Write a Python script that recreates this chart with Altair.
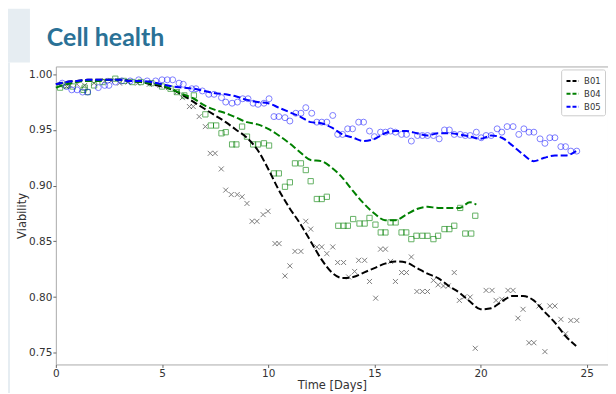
import altair as alt
import pandas as pd

title_text = ["Cell health"]
series_names = ["B01", "B04", "B05"]
line_colors = ["#000000", "#008000", "#0000ff"]

# Fitted (dashed) lines
b01_line_t = [0.0, 0.5, 1.0, 1.5, 2.0, 2.5, 3.0, 3.5, 4.0, 4.5, 5.0, 5.5, 6.0, 6.5, 7.0, 7.5, 8.0, 8.5, 9.0, 9.5,
              10.0, 10.5, 11.0, 11.5, 12.0, 12.5, 13.0, 13.5, 14.0, 14.5, 15.0, 15.5, 16.0, 16.5, 17.0, 17.5, 18.0, 18.5, 19.0, 19.5,
              20.0, 20.5, 21.0, 21.5, 22.0, 22.5, 23.0, 23.5, 24.0, 24.5]
b01_line_v = [0.991, 0.993, 0.994, 0.995, 0.995, 0.995, 0.995, 0.994, 0.993, 0.991,
              0.989, 0.986, 0.981, 0.975, 0.969, 0.963, 0.957, 0.950, 0.943, 0.932,
              0.915, 0.896, 0.880, 0.866, 0.850, 0.834, 0.822, 0.817, 0.818, 0.822,
              0.826, 0.830, 0.832, 0.831, 0.826, 0.821, 0.817, 0.810, 0.804, 0.796,
              0.789, 0.790, 0.796, 0.801, 0.801, 0.797, 0.787, 0.777, 0.765, 0.756]

b04_line_t = [0.0, 0.5, 1.0, 1.5, 2.0, 2.5, 3.0, 3.5, 4.0, 4.5, 5.0, 5.5, 6.0, 6.5, 7.0, 7.5, 8.0, 8.5, 9.0, 9.5,
              10.0, 10.5, 11.0, 11.5, 12.0, 12.5, 13.0, 13.5, 14.0, 14.5, 15.0, 15.5, 16.0, 16.5, 17.0, 17.5, 18.0, 18.5, 19.0, 19.5,
              19.8]
b04_line_v = [0.988, 0.991, 0.993, 0.994, 0.994, 0.995, 0.995, 0.994, 0.993, 0.992,
              0.990, 0.986, 0.982, 0.978, 0.972, 0.968, 0.965, 0.961, 0.957, 0.955,
              0.951, 0.945, 0.938, 0.930, 0.923, 0.922, 0.916, 0.907, 0.895, 0.884,
              0.875, 0.869, 0.869, 0.874, 0.879, 0.881, 0.880, 0.880, 0.880, 0.885,
              0.883]

b05_line_t = list(b01_line_t)
b05_line_v = [0.991, 0.993, 0.994, 0.995, 0.995, 0.995, 0.995, 0.994, 0.994, 0.993,
              0.991, 0.989, 0.988, 0.987, 0.985, 0.983, 0.982, 0.980, 0.977, 0.975,
              0.974, 0.970, 0.966, 0.962, 0.957, 0.956, 0.952, 0.946, 0.943, 0.940,
              0.942, 0.947, 0.949, 0.949, 0.947, 0.945, 0.947, 0.947, 0.946, 0.944,
              0.942, 0.945, 0.943, 0.936, 0.928, 0.922, 0.925, 0.927, 0.927, 0.931]

# Measurements
b01_pts_t = [0.2, 0.5, 0.66, 1.0, 1.36, 1.8, 2.3, 2.6, 3.0, 3.4, 3.85, 4.4, 4.9, 5.3, 5.7,
             5.96, 6.29, 6.47, 6.75, 7.04, 7.27, 7.5, 7.79, 8.0, 8.26, 8.54, 8.77, 9.0, 9.24, 9.47,
             9.76, 9.99, 10.32, 10.51, 10.79, 11.02, 11.26, 11.54, 11.77, 12.0, 12.29, 12.52, 12.76, 13.04,
             13.27, 13.55, 13.79, 14.07, 14.26, 14.54, 14.77, 15.06, 15.29, 15.52, 15.76, 15.99, 16.28, 16.51,
             16.74, 17.0, 17.26, 17.5, 17.78, 18.0, 18.25, 18.48, 18.76, 19.0, 19.23, 19.51, 19.75,
             20.26, 20.54, 20.73, 21.0, 21.29, 21.53, 21.76, 22.0, 22.28, 22.51, 22.75, 23.03, 23.26, 23.5,
             23.78, 24.0, 24.25, 24.53]
b01_pts_v = [0.990, 0.989, 0.990, 0.991, 0.990, 0.992, 0.994, 0.994, 0.992, 0.993, 0.992, 0.991, 0.990, 0.988, 0.984,
             0.979, 0.971, 0.971, 0.962, 0.953, 0.929, 0.929, 0.915, 0.896, 0.892, 0.892, 0.890, 0.884, 0.868, 0.868,
             0.874, 0.877, 0.848, 0.848, 0.819, 0.828, 0.841, 0.841, 0.868, 0.861, 0.845, 0.845, 0.839, 0.845,
             0.831, 0.831, 0.818, 0.823, 0.833, 0.833, 0.814, 0.799, 0.843, 0.843, 0.832, 0.814, 0.822, 0.822,
             0.836, 0.805, 0.805, 0.805, 0.815, 0.811, 0.810, 0.810, 0.822, 0.797, 0.800, 0.800, 0.754,
             0.806, 0.806, 0.797, 0.798, 0.806, 0.806, 0.781, 0.789, 0.759, 0.759, 0.792, 0.751, 0.792, 0.792,
             0.780, 0.767, 0.779, 0.779]

b04_pts_t = [0.2, 0.5, 0.8, 1.3, 1.36, 1.5, 1.8, 2.2, 2.8, 3.2, 3.6, 4.0, 4.5, 5.0, 5.4, 5.7, 6.05, 6.5,
             7.04, 7.3, 7.55, 7.8, 8.0, 8.3, 8.5, 8.77, 9.0, 9.29, 9.52, 9.8, 10.04, 10.27, 10.5, 10.79, 11.02,
             11.26, 11.54, 11.77, 12.0, 12.29, 12.52, 12.76, 13.3, 13.55, 13.75, 14.0, 14.3, 14.54, 14.77, 15.05,
             15.3, 15.52, 15.76, 16.0, 16.28, 16.5, 16.74, 16.98, 17.26, 17.5, 17.78, 18.0, 18.3, 18.53, 18.76,
             19.04, 19.28, 19.56, 19.75]
b04_pts_v = [0.988, 0.990, 0.989, 0.986, 0.988, 0.984, 0.990, 0.993, 0.996, 0.994, 0.993, 0.993, 0.992, 0.989, 0.987, 0.984, 0.981, 0.981,
             0.964, 0.954, 0.954, 0.947, 0.948, 0.937, 0.937, 0.953, 0.944, 0.937, 0.937, 0.938, 0.936, 0.911, 0.911, 0.899, 0.903,
             0.920, 0.920, 0.914, 0.904, 0.888, 0.888, 0.890, 0.864, 0.864, 0.864, 0.870, 0.866, 0.866, 0.871, 0.865,
             0.858, 0.858, 0.867, 0.867, 0.858, 0.858, 0.852, 0.855, 0.855, 0.855, 0.852, 0.855, 0.861, 0.861, 0.864,
             0.880, 0.857, 0.857, 0.873]

b05_pts_t = [0.3, 0.5, 0.75, 1.0, 1.26, 1.5, 2.0, 2.3, 2.5, 2.8, 3.1, 3.5, 3.9, 4.3, 4.7, 5.0, 5.25, 5.5, 5.8, 6.0,
             6.4, 6.6, 6.9, 7.2, 7.45, 7.8, 8.0, 8.3, 8.55, 8.8, 9.05, 9.29, 9.52, 9.8, 10.04, 10.27, 10.5, 10.79,
             11.02, 11.3, 11.54, 11.77, 12.05, 12.29, 12.52, 12.76, 13.04, 13.27, 13.5, 13.74, 13.97, 14.26, 14.49,
             14.77, 15.0, 15.29, 15.52, 15.76, 15.99, 16.28, 16.51, 16.74, 17.03, 17.26, 17.5, 17.78, 18.05, 18.3,
             18.53, 18.76, 19.04, 19.28, 19.51, 19.8, 20.03, 20.26, 20.5, 20.78, 21.0, 21.25, 21.53, 21.8, 22.04,
             22.28, 22.51, 22.8, 23.03, 23.26, 23.5, 23.78, 24.0, 24.25, 24.53]
b05_pts_v = [0.992, 0.989, 0.986, 0.986, 0.984, 0.984, 0.988, 0.990, 0.990, 0.993, 0.994, 0.994, 0.995, 0.994, 0.994, 0.995, 0.995, 0.995, 0.992, 0.991,
             0.987, 0.987, 0.985, 0.982, 0.982, 0.979, 0.975, 0.974, 0.975, 0.978, 0.978, 0.974, 0.973, 0.974, 0.978, 0.962, 0.962, 0.961,
             0.958, 0.965, 0.965, 0.970, 0.965, 0.957, 0.957, 0.957, 0.963, 0.946, 0.946, 0.951, 0.951, 0.957, 0.957,
             0.949, 0.944, 0.948, 0.948, 0.949, 0.948, 0.946, 0.946, 0.940, 0.945, 0.945, 0.945, 0.945, 0.942, 0.950,
             0.950, 0.946, 0.946, 0.945, 0.945, 0.948, 0.943, 0.945, 0.945, 0.951, 0.948, 0.953, 0.953, 0.946, 0.951,
             0.948, 0.948, 0.942, 0.938, 0.943, 0.943, 0.935, 0.935, 0.931, 0.931]

x_ticks = [0, 5, 10, 15, 20, 25]
y_ticks = [0.75, 0.80, 0.85, 0.90, 0.95, 1.00]

lines_df = pd.concat([
    pd.DataFrame({"t": b01_line_t, "v": b01_line_v, "s": "B01"}),
    pd.DataFrame({"t": b04_line_t, "v": b04_line_v, "s": "B04"}),
    pd.DataFrame({"t": b05_line_t, "v": b05_line_v, "s": "B05"}),
])
b01_df = pd.DataFrame({"t": b01_pts_t, "v": b01_pts_v})
b04_df = pd.DataFrame({"t": b04_pts_t, "v": b04_pts_v})
b05_df = pd.DataFrame({"t": b05_pts_t, "v": b05_pts_v})
one_df = pd.DataFrame({"k": [0]})
title_df = pd.DataFrame({"txt": title_text})

W, H = 554, 299
xs = alt.Scale(domain=[0, 26], nice=False, zero=False)
ys = alt.Scale(domain=[0.7395, 1.007], nice=False, zero=False)

x_enc = alt.X("t:Q", scale=xs, title="Time [Days]",
              axis=alt.Axis(values=x_ticks, format="d", grid=False, labelFlush=False))
y_enc = alt.Y("v:Q", scale=ys, title="Viability",
              axis=alt.Axis(values=y_ticks, format=".2f", grid=False, labelFlush=False))

bg_col = "#e6edf2"
cross_path = "M-1,-1L1,1M-1,1L1,-1"
pts1 = alt.Chart(b01_df).mark_point(shape=cross_path, filled=False, size=25,
                                    color="#000000", opacity=0.5, strokeWidth=1).encode(x=x_enc, y=y_enc)
pts4 = alt.Chart(b04_df).mark_point(shape="square", filled=False, size=28,
                                    color="#008000", opacity=0.6, strokeWidth=1).encode(x=x_enc, y=y_enc)
pts5 = alt.Chart(b05_df).mark_point(shape="circle", filled=False, size=36,
                                    color="#0000ff", opacity=0.5, strokeWidth=1).encode(x=x_enc, y=y_enc)

lines = alt.Chart(lines_df).mark_line(strokeDash=[7, 3], strokeWidth=2, interpolate="monotone").encode(
    x=x_enc, y=y_enc,
    color=alt.Color("s:N", scale=alt.Scale(domain=series_names, range=line_colors),
                    legend=alt.Legend(title=None, orient="top-right")),
)

# decorative slide background pieces outside the plot area
corner = alt.Chart(one_df).mark_rect(color=bg_col).encode(
    x=alt.value(-48), x2=alt.value(-26), y=alt.value(-58), y2=alt.value(-4))
strip = alt.Chart(one_df).mark_rect(color=bg_col).encode(
    x=alt.value(-48), x2=alt.value(-46), y=alt.value(-4), y2=alt.value(330))
title_mark = alt.Chart(title_df).mark_text(
    font="Lato", fontSize=25, fontWeight="bold", color="#2a7196",
    align="left", baseline="alphabetic").encode(
    x=alt.value(-9), y=alt.value(-21), text="txt:N")

chart = alt.layer(pts1, pts4, pts5, lines, corner, strip, title_mark).properties(
    width=W, height=H,
    autosize=alt.AutoSizeParams(type="none"),
    padding={"left": 48, "top": 58, "right": 0, "bottom": 28},
    background="white",
).configure_view(
    stroke="#aaaaaa", strokeWidth=1, fill="white"
).configure_axis(
    domain=False, tickColor="#666666", tickSize=3, labelFont="DejaVu Sans", labelFontSize=10.5,
    labelColor="#333333", titleFont="DejaVu Sans", titleFontSize=11.5, titleFontWeight="normal",
    titleColor="#333333", labelPadding=1, titlePadding=1
).configure_legend(
    symbolType="stroke", symbolSize=150, symbolStrokeWidth=2, symbolDash=[4, 2],
    labelFont="DejaVu Sans", labelFontSize=8.5, labelColor="#333333",
    fillColor="white", strokeColor="#cccccc", cornerRadius=2, padding=4, rowPadding=1,
    offset=3
)

chart.save("out.html", embed_options={"renderer": "svg", "actions": False})
